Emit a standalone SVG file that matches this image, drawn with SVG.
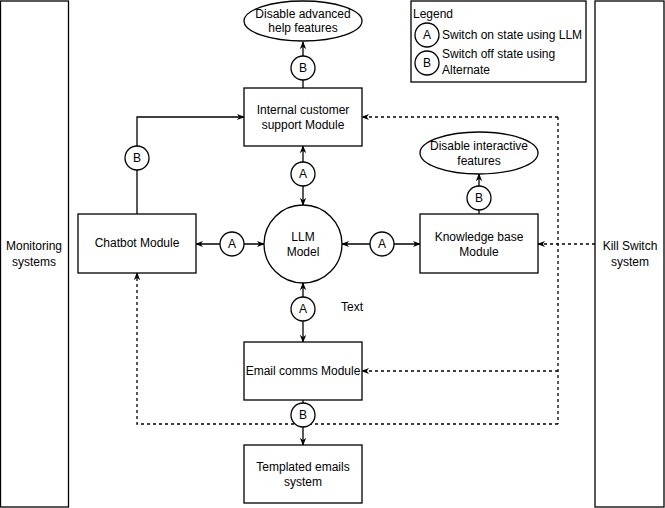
<svg xmlns="http://www.w3.org/2000/svg" width="665" height="508" viewBox="0 0 665 508">
<style>
.box{fill:#fff;stroke:#000;stroke-width:1.3}
.t{font-family:"Liberation Sans",Arial,sans-serif;font-size:12px;fill:#000;text-anchor:middle;dominant-baseline:central}
.tl{font-family:"Liberation Sans",Arial,sans-serif;font-size:12px;fill:#000}
.c{fill:none;stroke:#000;stroke-width:1.3}
.d{fill:none;stroke:#000;stroke-width:1.3;stroke-dasharray:3 3}
</style>
<defs>
<marker id="ah" viewBox="0 0 10 10" refX="9" refY="5" markerWidth="8" markerHeight="8" orient="auto-start-reverse" markerUnits="userSpaceOnUse">
<path d="M0,1 L10,5 L0,9 L3,5 z" fill="#000"/>
</marker>
</defs>
<rect width="665" height="508" fill="#fff"/>
<g id="connectors">
<line class="c" x1="303" y1="88" x2="303" y2="42" marker-end="url(#ah)"/>
<line class="c" x1="303" y1="146" x2="303" y2="205" marker-start="url(#ah)" marker-end="url(#ah)"/>
<line class="c" x1="196" y1="244" x2="264" y2="244" marker-start="url(#ah)" marker-end="url(#ah)"/>
<line class="c" x1="342" y1="244" x2="420" y2="244" marker-start="url(#ah)" marker-end="url(#ah)"/>
<line class="c" x1="303" y1="283" x2="303" y2="342" marker-start="url(#ah)" marker-end="url(#ah)"/>
<line class="c" x1="479" y1="214" x2="479" y2="174" marker-end="url(#ah)"/>
<polyline class="c" points="137,214 137,117 244,117" marker-end="url(#ah)"/>
<line class="c" x1="303" y1="400" x2="303" y2="445" marker-end="url(#ah)"/>
<line class="d" x1="595" y1="244" x2="538" y2="244" marker-end="url(#ah)"/>
<polyline class="d" points="558,117 362,117" marker-end="url(#ah)"/>
<line class="d" x1="558" y1="117" x2="558" y2="424"/>
<polyline class="d" points="558,371 362,371" marker-end="url(#ah)"/>
<polyline class="d" points="558,424 137,424 137,273" marker-end="url(#ah)"/>
</g>
<g id="monitoring">
<rect class="box" x="0.5" y="1" width="68" height="506"/>
<text class="t" x="34" y="246">Monitoring</text>
<text class="t" x="34" y="262">systems</text>
</g>
<g id="killswitch">
<rect class="box" x="595" y="1" width="69" height="506"/>
<text class="t" x="630" y="246">Kill Switch</text>
<text class="t" x="630" y="262">system</text>
</g>
<g id="legend">
<rect class="box" x="411" y="1" width="175" height="81"/>
<text class="tl" x="413" y="18">Legend</text>
<circle class="box" cx="427" cy="35" r="12"/>
<text class="t" x="427" y="35">A</text>
<text class="tl" x="442" y="39">Switch on state using LLM</text>
<circle class="box" cx="427" cy="63" r="12"/>
<text class="t" x="427" y="63">B</text>
<text class="tl" x="442" y="58">Switch off state using</text>
<text class="tl" x="442" y="74">Alternate</text>
</g>
<g id="disable-help">
<ellipse class="box" cx="303" cy="21" rx="59" ry="20"/>
<text class="t" x="303" y="14">Disable advanced</text>
<text class="t" x="303" y="28">help features</text>
</g>
<g id="internal">
<rect class="box" x="244" y="88" width="118" height="58"/>
<text class="t" x="303" y="110">Internal customer</text>
<text class="t" x="303" y="125">support Module</text>
</g>
<g id="disable-interactive">
<ellipse class="box" cx="479" cy="153" rx="59" ry="21"/>
<text class="t" x="479" y="146">Disable interactive</text>
<text class="t" x="479" y="161">features</text>
</g>
<g id="chatbot">
<rect class="box" x="78" y="214" width="118" height="59"/>
<text class="t" x="137" y="243">Chatbot Module</text>
</g>
<g id="llm">
<circle class="box" cx="303" cy="244" r="39"/>
<text class="t" x="303" y="237">LLM</text>
<text class="t" x="303" y="252">Model</text>
</g>
<g id="knowledge">
<rect class="box" x="420" y="214" width="118" height="59"/>
<text class="t" x="479" y="237">Knowledge base</text>
<text class="t" x="479" y="252">Module</text>
</g>
<g id="email">
<rect class="box" x="244" y="342" width="118" height="58"/>
<text class="t" x="303" y="371">Email comms Module</text>
</g>
<g id="templated">
<rect class="box" x="244" y="445" width="118" height="58"/>
<text class="t" x="303" y="467">Templated emails</text>
<text class="t" x="303" y="482">system</text>
</g>
<g id="label-text">
<text class="t" x="352" y="307">Text</text>
</g>
<g id="badges">
<circle class="box" cx="303" cy="68" r="12"/><text class="t" x="303" y="68">B</text>
<circle class="box" cx="303" cy="174" r="12"/><text class="t" x="303" y="174">A</text>
<circle class="box" cx="232" cy="244" r="12"/><text class="t" x="232" y="244">A</text>
<circle class="box" cx="382" cy="244" r="12"/><text class="t" x="382" y="244">A</text>
<circle class="box" cx="479" cy="198" r="12"/><text class="t" x="479" y="198">B</text>
<circle class="box" cx="137" cy="158" r="12"/><text class="t" x="137" y="158">B</text>
<circle class="box" cx="303" cy="309" r="12"/><text class="t" x="303" y="309">A</text>
<circle class="box" cx="303" cy="415" r="12"/><text class="t" x="303" y="415">B</text>
</g>
</svg>
